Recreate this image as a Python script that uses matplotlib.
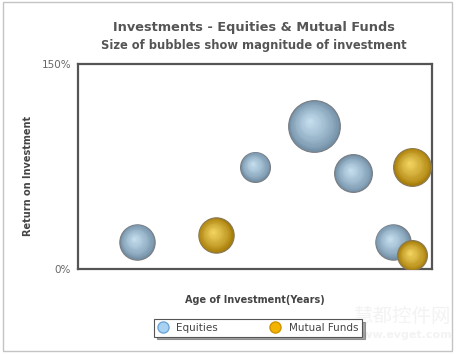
import matplotlib
matplotlib.use('Agg')
import matplotlib.pyplot as plt
import numpy as np
from matplotlib.colors import to_rgb
from matplotlib.lines import Line2D
from matplotlib.patches import Rectangle
from matplotlib.transforms import offset_copy

# Daten: Alter (Jahre), Rendite (%), Investitionsgroesse
eq_age = [3, 9, 12, 14, 16]
eq_roi = [20, 75, 105, 70, 20]
eq_size = [14, 10, 30, 16, 14]

mf_age = [7, 17, 17]
mf_roi = [25, 75, 10]
mf_size = [14, 16, 10]

y_ticks = [0, 150]
y_tick_labels = ['0%', '150%']

W, H = 458, 355
fig = plt.figure(figsize=(W / 100, H / 100), dpi=100)
fig.patch.set_facecolor('white')

# aeusserer Rahmen
fig.patches.append(Rectangle((3 / W, 1 - 351 / H), 449 / W, 349 / H,
                             transform=fig.transFigure, fill=False,
                             edgecolor='#c4c4c4', linewidth=1.0))

ax = fig.add_axes([78 / W, 1 - 269 / H, 354 / W, 205 / H])
ax.set_xlim(0, 18)
ax.set_ylim(0, 150)
ax.set_xticks([])
ax.set_yticks(y_ticks)
ax.set_yticklabels(y_tick_labels, fontsize=7.5, color='#666666')
ax.tick_params(axis='y', length=0, pad=5)
for sp in ax.spines.values():
    sp.set_color('#555555')
    sp.set_linewidth(1.6)

SCALE = 46.0  # Flaeche pro Groesseneinheit (pt^2)


def bubbles(xs, ys, zs, dark, light, edge):
    dark = np.array(to_rgb(dark))
    light = np.array(to_rgb(light))
    n = 18
    for x, y, z in zip(xs, ys, zs):
        s = z * SCALE
        r = np.sqrt(s) / 2
        ax.scatter([x], [y], s=s, color=dark, edgecolor=edge,
                   linewidth=0.9, zorder=3)
        for k in range(1, n):
            t = k / n
            c = dark + (light - dark) * t ** 0.8
            tr = offset_copy(ax.transData, fig=fig, x=-0.18 * r * t,
                             y=0.18 * r * t, units='points')
            ax.scatter([x], [y], s=s * (1 - t) ** 2 * 0.97, color=c,
                       linewidth=0, transform=tr, zorder=3)


bubbles(eq_age, eq_roi, eq_size, '#7391a8', '#c9e2f2', '#7a7f85')
bubbles(mf_age, mf_roi, mf_size, '#a87e08', '#f7d865', '#8a7a55')

# Titel
fig.text(254 / W, 1 - 27 / H, 'Investments - Equities & Mutual Funds',
         ha='center', va='center', fontsize=9.3, fontweight='bold',
         color='#555555')
fig.text(254 / W, 1 - 46 / H, 'Size of bubbles show magnitude of investment',
         ha='center', va='center', fontsize=8.3, fontweight='bold',
         color='#555555')

fig.text(255 / W, 1 - 300 / H, 'Age of Investment(Years)', ha='center',
         va='center', fontsize=7, fontweight='bold', color='#444444')
fig.text(28 / W, 1 - 176 / H, 'Return on Investment', ha='center',
         va='center', rotation=90, fontsize=7, fontweight='bold',
         color='#444444')

# Wasserzeichen
fig.text(402 / W, 1 - 316 / H, '慧都控件网', ha='center', va='center',
         fontsize=14, color='#f3f3f3', zorder=0,
         family=['Noto Sans CJK SC', 'DejaVu Sans'])
fig.text(402 / W, 1 - 335 / H, 'www.evget.com', ha='center', va='center',
         fontsize=8, color='#f3f3f3', fontweight='bold', zorder=0)

handles = [
    Line2D([], [], marker='o', linestyle='none', markersize=8,
           markerfacecolor='#a9d2f2', markeredgecolor='#6fa6d6',
           label='Equities'),
    Line2D([], [], marker='o', linestyle='none', markersize=8,
           markerfacecolor='#f2b400', markeredgecolor='#d09400',
           label='Mutual Funds'),
]
leg = fig.legend(handles=handles, loc='center', ncol=2,
                 bbox_to_anchor=(258 / W, 1 - 328 / H), fontsize=7.5,
                 frameon=True, fancybox=False, shadow=True,
                 columnspacing=5.0, handletextpad=0.8, borderpad=0.35,
                 handlelength=1.0)
leg.get_frame().set_edgecolor('#555555')
leg.get_frame().set_linewidth(0.8)
leg.set_zorder(5)
for t in leg.get_texts():
    t.set_color('#444444')

fig.savefig('out.png', dpi=100)
